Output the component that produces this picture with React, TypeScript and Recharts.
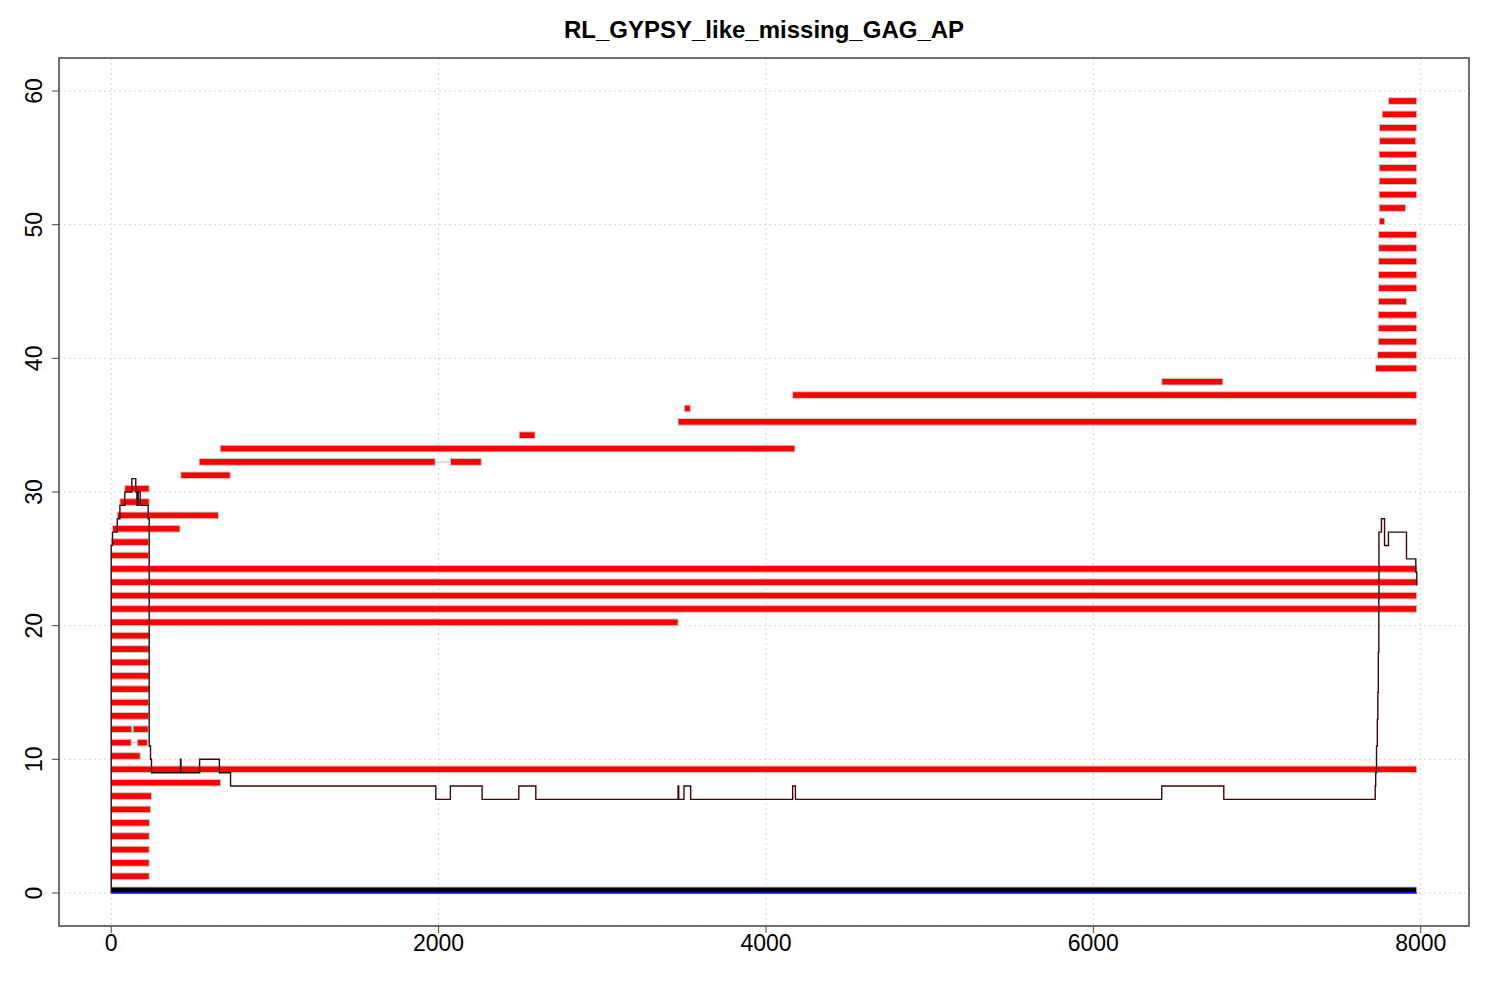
import React from "react";
import {
    ComposedChart,
    Line,
    XAxis,
    YAxis,
    CartesianGrid,
    ReferenceArea,
    ReferenceLine,
} from "recharts";

const title = "RL_GYPSY_like_missing_GAG_AP";

const xTicks = [0, 2000, 4000, 6000, 8000];
const yTicks = [0, 10, 20, 30, 40, 50, 60];

// hit segments: [row, start, end]
const segments: [number, number, number][] = [
    [1, 0, 232], [2, 0, 232], [3, 0, 232], [4, 0, 232], [5, 0, 234],
    [6, 0, 240], [7, 0, 246], [8, 0, 668], [9, 0, 7976], [10, 0, 177],
    [11, 0, 122], [11, 159, 221], [12, 0, 126], [12, 134, 226],
    [13, 0, 228], [14, 0, 228], [15, 0, 232], [16, 0, 232], [17, 0, 232],
    [18, 0, 232], [19, 0, 232], [20, 0, 3463],
    [21, 0, 7976], [22, 0, 7976], [23, 0, 7976], [24, 0, 7976],
    [25, 0, 228], [26, 0, 228], [27, 8, 420], [28, 37, 655],
    [29, 53, 232], [30, 83, 232], [31, 425, 727],
    [32, 537, 1979], [32, 2072, 2261], [33, 666, 4177], [34, 2492, 2589],
    [35, 3463, 7976], [36, 3501, 3538], [37, 4163, 7976], [38, 6418, 6791],
    [39, 7723, 7976], [40, 7736, 7976], [41, 7740, 7976], [42, 7740, 7976],
    [43, 7740, 7976], [44, 7742, 7913], [45, 7742, 7976], [46, 7742, 7976],
    [47, 7743, 7976], [48, 7743, 7976], [49, 7743, 7976], [50, 7746, 7780],
    [51, 7746, 7908], [52, 7746, 7976], [53, 7746, 7976], [54, 7746, 7976],
    [55, 7746, 7976], [56, 7748, 7970], [57, 7748, 7976], [58, 7764, 7976],
    [59, 7803, 7976],
];

// gaps joining two pieces of the same hit
const gaps: [number, number, number][] = [
    [11, 122, 159],
    [12, 126, 134],
    [32, 1979, 2072],
];

// consensus bar at the bottom
const baseBar = [0, 7976];

// coverage profile
const coverageX = [
    0, 0, 8, 37, 53, 83, 126, 150, 157, 165, 177, 226, 232, 240, 246, 423, 426,
    540, 661, 729, 1983, 2072, 2266, 2490, 2594, 3463, 3467, 3499, 3540, 4163,
    4180, 6418, 6797, 7722, 7725, 7730, 7735, 7738, 7741, 7744, 7745, 7760,
    7779, 7803, 7913, 7970, 7976,
];
const coverageY = [
    0, 26, 27, 28, 29, 30, 31, 30, 29, 30, 29, 28, 11, 10, 9, 10, 9,
    10, 9, 8, 7, 8, 7, 8, 7, 8, 7, 8, 7, 8,
    7, 8, 7, 8, 9, 11, 13, 15, 18, 22, 27, 28,
    26, 27, 25, 24, 23,
];

const coverage = coverageX.map((x, i) => ({ x, y: coverageY[i] }));

const X_DOMAIN: [number, number] = [-319, 8295];
const Y_DOMAIN: [number, number] = [-2.47, 62.47];
const BAR_H = 0.5;

const font = "'Liberation Sans', Arial, Helvetica, sans-serif";

function YTick({ x, y, payload }: any) {
    return (
        <text
            x={x - 16}
            y={y}
            transform={`rotate(-90 ${x - 16} ${y})`}
            textAnchor="middle"
            dominantBaseline="central"
            fontSize={23}
            fontFamily={font}
            fill="#000"
        >
            {payload.value}
        </text>
    );
}

export default function App() {
    return (
        <div
            style={{
                position: "absolute",
                left: 0,
                top: 0,
                width: 1500,
                height: 1000,
                background: "#fff",
            }}
        >
            <div
                style={{
                    position: "absolute",
                    left: 59,
                    width: 1410,
                    top: 16,
                    textAlign: "center",
                    fontFamily: font,
                    fontWeight: "bold",
                    fontSize: 24,
                }}
            >
                {title}
            </div>
            <ComposedChart
                width={1500}
                height={1000}
                data={coverage}
                margin={{ top: 58, right: 31, bottom: 0, left: 0 }}
            >
                <CartesianGrid
                    stroke="#d6d6d6"
                    strokeDasharray="2 3"
                    strokeWidth={1}
                />
                <XAxis
                    type="number"
                    dataKey="x"
                    domain={X_DOMAIN}
                    ticks={xTicks}
                    allowDataOverflow
                    height={74}
                    tickSize={7}
                    tickMargin={2}
                    axisLine={false}
                    tickLine={{ stroke: "#444" }}
                    tick={{ fontSize: 23, fill: "#000", fontFamily: font }}
                />
                <YAxis
                    type="number"
                    domain={Y_DOMAIN}
                    ticks={yTicks}
                    allowDataOverflow
                    width={59}
                    tickSize={7}
                    tickMargin={2}
                    axisLine={false}
                    tickLine={{ stroke: "#444" }}
                    tick={<YTick />}
                />
                <ReferenceArea
                    x1={X_DOMAIN[0]}
                    x2={X_DOMAIN[1]}
                    y1={Y_DOMAIN[0]}
                    y2={Y_DOMAIN[1]}
                    fill="none"
                    stroke="#444"
                    strokeWidth={1.5}
                    ifOverflow="visible"
                />
                {gaps.map(([row, a, b], i) => (
                    <ReferenceLine
                        key={"g" + i}
                        segment={[
                            { x: a, y: row + BAR_H / 2 },
                            { x: b, y: row + BAR_H / 2 },
                        ]}
                        stroke="#c0c0c0"
                        strokeWidth={1}
                        ifOverflow="visible"
                    />
                ))}
                {segments.map(([row, a, b], i) => (
                    <ReferenceArea
                        key={"s" + i}
                        x1={a}
                        x2={b}
                        y1={row}
                        y2={row + BAR_H}
                        fill="#ff0000"
                        fillOpacity={1}
                        stroke="#cccccc"
                        strokeWidth={1}
                        ifOverflow="visible"
                    />
                ))}
                <ReferenceArea
                    x1={baseBar[0]}
                    x2={baseBar[1]}
                    y1={0}
                    y2={0.45}
                    fill="#000000"
                    fillOpacity={1}
                    stroke="#cccccc"
                    strokeWidth={1}
                    ifOverflow="visible"
                />
                <ReferenceLine
                    segment={[
                        { x: baseBar[0], y: 0 },
                        { x: baseBar[1], y: 0 },
                    ]}
                    stroke="#0000ff"
                    strokeWidth={1.5}
                    ifOverflow="visible"
                />
                <Line
                    dataKey="y"
                    type="stepAfter"
                    stroke="#3a0808"
                    strokeWidth={1.4}
                    dot={false}
                    activeDot={false}
                    isAnimationActive={false}
                />
            </ComposedChart>
        </div>
    );
}
